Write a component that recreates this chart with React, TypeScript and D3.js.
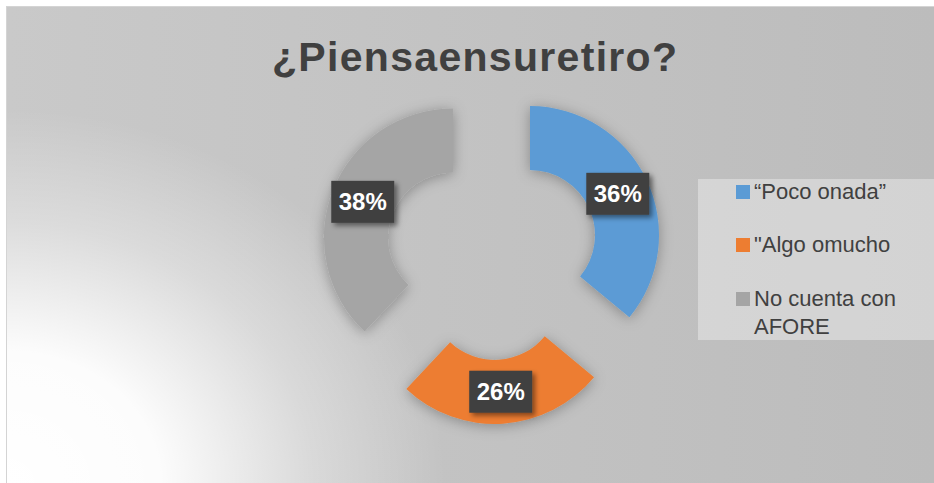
import React, { useEffect, useRef } from 'react';
import * as d3 from 'd3';

const categories = ['“Poco onada”', '"Algo omucho', 'No cuenta con AFORE'];
const legendLines = [['“Poco onada”'], ['"Algo omucho'], ['No cuenta con', 'AFORE']];
const values = [36, 26, 38];
const colors = ['#5b9bd5', '#ed7d31', '#a5a5a5'];
const title = '¿Piensaensuretiro?';

const width = 934;
const height = 483;

function App() {
  const ref = useRef<SVGSVGElement | null>(null);

  useEffect(() => {
    const svg = d3.select(ref.current);
    svg.selectAll('*').remove();

    const defs = svg.append('defs');

    const lin = defs.append('linearGradient').attr('id', 'bgLin')
      .attr('x1', '0').attr('y1', '0').attr('x2', '1').attr('y2', '0');
    lin.append('stop').attr('offset', '0').attr('stop-color', '#c9c9c9');
    lin.append('stop').attr('offset', '1').attr('stop-color', '#bcbcbc');

    const rad = defs.append('radialGradient').attr('id', 'bgRad')
      .attr('gradientUnits', 'userSpaceOnUse')
      .attr('cx', 6).attr('cy', 483).attr('r', 440)
      .attr('gradientTransform', 'translate(6,483) scale(1,0.85) translate(-6,-483)');
    rad.append('stop').attr('offset', '0').attr('stop-color', '#ffffff').attr('stop-opacity', 1);
    rad.append('stop').attr('offset', '0.35').attr('stop-color', '#ffffff').attr('stop-opacity', 0.95);
    rad.append('stop').attr('offset', '0.7').attr('stop-color', '#ffffff').attr('stop-opacity', 0.35);
    rad.append('stop').attr('offset', '1').attr('stop-color', '#ffffff').attr('stop-opacity', 0);

    const sliceShadow = defs.append('filter').attr('id', 'sliceShadow')
      .attr('x', '-30%').attr('y', '-30%').attr('width', '160%').attr('height', '160%');
    sliceShadow.append('feDropShadow').attr('dx', 0).attr('dy', 2)
      .attr('stdDeviation', 7).attr('flood-color', '#000').attr('flood-opacity', 0.3);

    const boxShadow = defs.append('filter').attr('id', 'boxShadow')
      .attr('x', '-30%').attr('y', '-30%').attr('width', '160%').attr('height', '160%');
    boxShadow.append('feDropShadow').attr('dx', 3).attr('dy', 3)
      .attr('stdDeviation', 2.5).attr('flood-color', '#000').attr('flood-opacity', 0.45);

    // background
    svg.append('rect').attr('width', width).attr('height', height).attr('fill', '#ffffff');
    svg.append('rect').attr('x', 6.5).attr('y', 6.5).attr('width', width - 6).attr('height', height - 6)
      .attr('fill', 'url(#bgLin)').attr('stroke', '#d4d4d4').attr('stroke-width', 1);
    svg.append('rect').attr('x', 7).attr('y', 7).attr('width', width - 7).attr('height', height - 7)
      .attr('fill', 'url(#bgRad)');

    // title
    svg.append('text')
      .attr('x', 272).attr('y', 71)
      .attr('font-family', 'Liberation Sans, Arial, sans-serif')
      .attr('font-weight', 'bold')
      .attr('font-size', 41)
      .attr('fill', '#404040')
      .attr('textLength', 405)
      .attr('lengthAdjust', 'spacing')
      .text(title);

    // doughnut
    const cx = 492;
    const cy = 253;
    const outerR = 129;
    const innerR = 65;
    const explode = 42;

    const pie = d3.pie<number>().sort(null).value((d) => d);
    const arcGen = d3.arc<d3.PieArcDatum<number>>().innerRadius(innerR).outerRadius(outerR);
    const arcs = pie(values);

    const g = svg.append('g').attr('transform', `translate(${cx},${cy})`);

    const offset = (d: d3.PieArcDatum<number>) => {
      const a = (d.startAngle + d.endAngle) / 2;
      return [explode * Math.sin(a), -explode * Math.cos(a)];
    };

    g.selectAll('path.slice')
      .data(arcs)
      .enter()
      .append('path')
      .attr('class', 'slice')
      .attr('d', arcGen)
      .attr('fill', (_, i) => colors[i])
      .attr('filter', 'url(#sliceShadow)')
      .attr('transform', (d) => {
        const [ox, oy] = offset(d);
        return `translate(${ox},${oy})`;
      });

    const labels = g.selectAll('g.lbl')
      .data(arcs)
      .enter()
      .append('g')
      .attr('class', 'lbl')
      .attr('transform', (d) => {
        const [ox, oy] = offset(d);
        const [x, y] = arcGen.centroid(d);
        return `translate(${x + ox},${y + oy})`;
      });

    labels.append('rect')
      .attr('x', -31.5).attr('y', -21)
      .attr('width', 63).attr('height', 42)
      .attr('fill', '#404040')
      .attr('filter', 'url(#boxShadow)');

    labels.append('text')
      .attr('text-anchor', 'middle')
      .attr('dy', '0.36em')
      .attr('font-family', 'Liberation Sans, Arial, sans-serif')
      .attr('font-weight', 'bold')
      .attr('font-size', 24)
      .attr('fill', '#ffffff')
      .text((d) => `${d.data}%`);

    // legend
    svg.append('rect')
      .attr('x', 698).attr('y', 179)
      .attr('width', width - 698).attr('height', 161)
      .attr('fill', '#ffffff').attr('fill-opacity', 0.35);

    const rowY = [199, 252, 306];
    const leg = svg.selectAll('g.leg')
      .data(categories)
      .enter()
      .append('g')
      .attr('class', 'leg')
      .attr('transform', (_, i) => `translate(736,${rowY[i]})`);

    leg.append('rect')
      .attr('x', 0).attr('y', -14)
      .attr('width', 14).attr('height', 14)
      .attr('fill', (_, i) => colors[i]);

    const legText = leg.append('text')
      .attr('x', 18)
      .attr('font-family', 'Liberation Sans, Arial, sans-serif')
      .attr('font-size', 22)
      .attr('fill', '#404040');

    legText.selectAll('tspan')
      .data((_, i) => legendLines[i])
      .enter()
      .append('tspan')
      .attr('x', 18)
      .attr('dy', (_, j) => (j === 0 ? 0 : 28))
      .text((t) => t);
  }, []);

  return (
    <svg
      ref={ref}
      width={width}
      height={height}
      style={{ position: 'absolute', left: 0, top: 0, display: 'block' }}
    />
  );
}

export default App;
